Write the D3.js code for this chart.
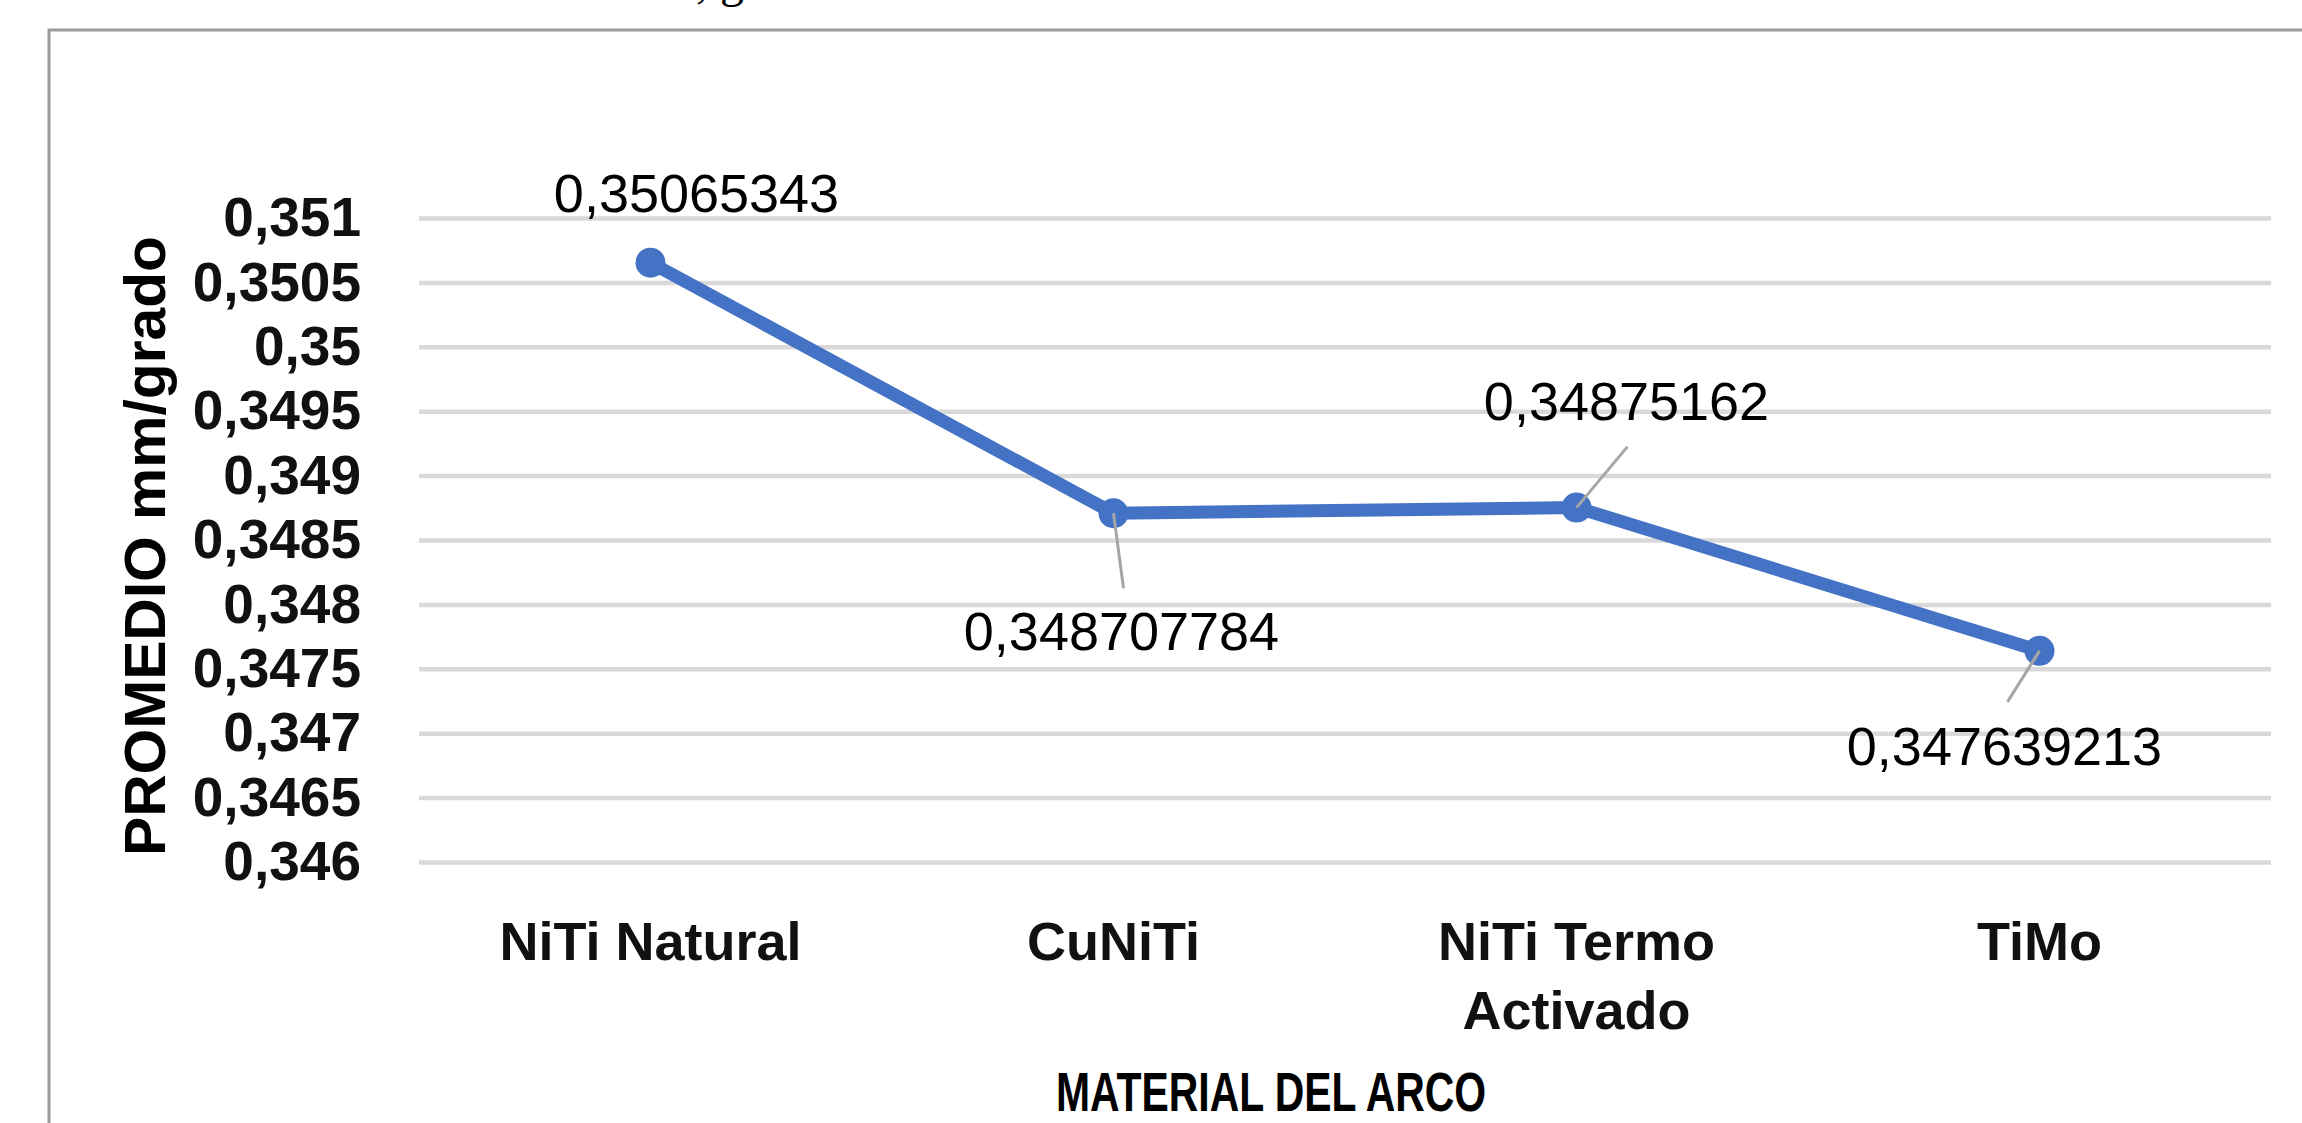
<!DOCTYPE html>
<html>
<head>
<meta charset="utf-8">
<script src="https://cdn.jsdelivr.net/npm/d3@7"></script>
<style>
  body { margin: 0; background: #fff; }
  svg { display: block; }
</style>
</head>
<body>
<div class="line_chart"></div>
<script>
// data
var categories = ["NiTi Natural", "CuNiTi", "NiTi Termo Activado", "TiMo"];
var promedio = [0.35065343, 0.348707784, 0.34875162, 0.347639213];
var yTicks = [0.346, 0.3465, 0.347, 0.3475, 0.348, 0.3485, 0.349, 0.3495, 0.35, 0.3505, 0.351];

var width = 2302,
    height = 1123;

var blue = "#4472C4",
    font = "'Liberation Sans', Arial, sans-serif";

// label placement relative to each point (label centre/baseline, leader end)
var labelPos = [
    {dx: 46, dy: -51, leader: null},
    {dx: 8, dy: 137, leader: [10, 75]},
    {dx: 50, dy: -88, leader: [51, -61]},
    {dx: -35, dy: 114, leader: [-32, 51]}
];

var comma = function(v) { return String(v).replace(".", ","); };

var x = d3.scaleBand()
    .domain(categories)
    .range([419, 2271]);

var y = d3.scaleLinear()
    .domain([0.346, 0.351])
    .range([862, 218]);

var svg = d3.select(".line_chart")
    .append("svg")
    .attr("width", width)
    .attr("height", height);

// cut-off caption above the frame
svg.append("text")
    .attr("x", 696)
    .attr("y", -3)
    .attr("font-family", "'Liberation Serif', 'Times New Roman', serif")
    .attr("font-size", 48)
    .attr("fill", "#000")
    .text(", g");

// chart frame (runs off the right and bottom edges)
svg.append("rect")
    .attr("x", 49)
    .attr("y", 30)
    .attr("width", 2400)
    .attr("height", 1200)
    .attr("fill", "none")
    .attr("stroke", "#9a9a9a")
    .attr("stroke-width", 3);

// gridlines
var grid = svg.append("g")
    .attr("transform", "translate(" + x.range()[0] + ",0)")
    .call(d3.axisLeft(y).tickValues(yTicks).tickSize(-(x.range()[1] - x.range()[0])).tickFormat(""));
grid.select(".domain").remove();
grid.selectAll(".tick line")
    .attr("stroke", "#d9d9d9")
    .attr("stroke-width", 4.5);

// y axis labels
var yAxis = svg.append("g")
    .attr("transform", "translate(" + x.range()[0] + ",0)")
    .call(d3.axisLeft(y).tickValues(yTicks).tickSize(0).tickPadding(58).tickFormat(comma));
yAxis.select(".domain").remove();
yAxis.selectAll("text")
    .attr("font-family", font)
    .attr("font-size", 55)
    .attr("font-weight", "bold")
    .attr("fill", "#111");

// x axis labels
var xAxis = svg.append("g")
    .attr("transform", "translate(0," + y.range()[0] + ")")
    .call(d3.axisBottom(x).tickSize(0).tickPadding(60));
xAxis.select(".domain").remove();
xAxis.selectAll("text")
    .attr("font-family", font)
    .attr("font-size", 54)
    .attr("font-weight", "bold")
    .attr("fill", "#111")
    .call(wrap, x.bandwidth() * 0.95);

function wrap(text, maxWidth) {
    text.each(function() {
        var t = d3.select(this),
            words = t.text().split(/\s+/),
            yy = t.attr("y"),
            line = [],
            lineNo = 0,
            tspan = t.text(null).append("tspan").attr("x", 0).attr("y", yy).attr("dy", "0.71em");
        words.forEach(function(w) {
            line.push(w);
            tspan.text(line.join(" "));
            if (tspan.node().getComputedTextLength() > maxWidth && line.length > 1) {
                line.pop();
                tspan.text(line.join(" "));
                line = [w];
                lineNo++;
                tspan = t.append("tspan").attr("x", 0).attr("y", yy)
                    .attr("dy", (0.71 + lineNo * 1.28) + "em").text(w);
            }
        });
    });
}

// axis titles
svg.append("text")
    .attr("x", 1271)
    .attr("y", 1111)
    .attr("text-anchor", "middle")
    .attr("font-family", font)
    .attr("font-size", 56)
    .attr("font-weight", "bold")
    .attr("textLength", 430)
    .attr("lengthAdjust", "spacingAndGlyphs")
    .text("MATERIAL DEL ARCO");

svg.append("text")
    .attr("transform", "translate(165,546) rotate(-90)")
    .attr("text-anchor", "middle")
    .attr("font-family", font)
    .attr("font-size", 57)
    .attr("font-weight", "bold")
    .attr("textLength", 620)
    .attr("lengthAdjust", "spacingAndGlyphs")
    .text("PROMEDIO mm/grado");

// series
var points = categories.map(function(c, i) {
    return {cat: c, value: promedio[i], pos: labelPos[i]};
});
var cx = function(d) { return x(d.cat) + x.bandwidth() / 2; };

svg.append("path")
    .datum(points)
    .attr("fill", "none")
    .attr("stroke", blue)
    .attr("stroke-width", 13)
    .attr("stroke-linejoin", "round")
    .attr("d", d3.line().x(cx).y(function(d) { return y(d.value); }));

svg.selectAll(".marker")
    .data(points)
    .enter().append("circle")
    .attr("class", "marker")
    .attr("cx", cx)
    .attr("cy", function(d) { return y(d.value); })
    .attr("r", 15)
    .attr("fill", blue);

// leader lines
svg.selectAll(".leader")
    .data(points.filter(function(d) { return d.pos.leader; }))
    .enter().append("line")
    .attr("class", "leader")
    .attr("x1", cx)
    .attr("y1", function(d) { return y(d.value); })
    .attr("x2", function(d) { return cx(d) + d.pos.leader[0]; })
    .attr("y2", function(d) { return y(d.value) + d.pos.leader[1]; })
    .attr("stroke", "#a6a6a6")
    .attr("stroke-width", 3);

// data labels
svg.selectAll(".dlabel")
    .data(points)
    .enter().append("text")
    .attr("class", "dlabel")
    .attr("x", function(d) { return cx(d) + d.pos.dx; })
    .attr("y", function(d) { return y(d.value) + d.pos.dy; })
    .attr("text-anchor", "middle")
    .attr("font-family", font)
    .attr("font-size", 54)
    .attr("fill", "#000")
    .text(function(d) { return comma(d.value); });
</script>
</body>
</html>
